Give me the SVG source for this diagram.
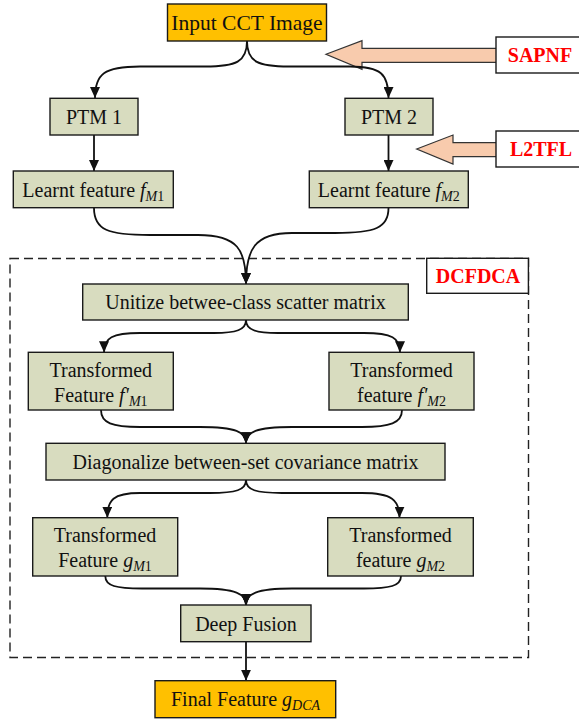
<svg xmlns="http://www.w3.org/2000/svg" width="579" height="723" viewBox="0 0 579 723">
<style>
.box{fill:#D8DCBF;stroke:#1a1a1a;stroke-width:1.4}
.org{fill:#FFC000;stroke:#1a1a1a;stroke-width:1.4}
.lbl{fill:#fff;stroke:#1a1a1a;stroke-width:1.4}
.t{font-family:"Liberation Serif","Times New Roman",serif;font-size:20px;fill:#111;text-anchor:middle}
.r{font-family:"Liberation Serif","Times New Roman",serif;font-size:20px;font-weight:bold;fill:#FF0000;text-anchor:middle}
.i{font-style:italic}
.s{font-size:14px}
.c{fill:none;stroke:#111;stroke-width:1.8}
.blk{fill:#F8CBAD;stroke:#333;stroke-width:1.2}
.dash{fill:none;stroke:#222;stroke-width:1.4;stroke-dasharray:9 5}
</style>
<defs>
<marker id="ah" markerUnits="userSpaceOnUse" markerWidth="11" markerHeight="10" refX="11" refY="5" orient="auto">
<path d="M0,0 L11,5 L0,10 z" fill="#111"/>
</marker>
</defs>

<rect class="dash" x="10" y="258.5" width="518.5" height="399"/>

<g id="sapnf-arrow"><polygon class="blk" points="326,54.3 362,40.7 362,48.3 497,48.3 497,62.3 362,62.3 362,69.3"/></g>
<g id="l2tfl-arrow"><polygon class="blk" points="416.7,149 453,135 453,142.7 497,142.7 497,156.7 453,156.7 453,164"/></g>

<g id="connectors">
<path class="c" marker-end="url(#ah)" d="M247,41 C247,62 236,66.5 205,66.5 L140,66.5 C104,66.5 95,74 95,98"/>
<path class="c" marker-end="url(#ah)" d="M247,41 C247,62 258,66.5 289,66.5 L350,66.5 C381,66.5 388.5,74 388.5,98"/>
<path class="c" marker-end="url(#ah)" d="M94,135 L94,171"/>
<path class="c" marker-end="url(#ah)" d="M388.5,135 L388.5,171"/>
<path class="c" marker-end="url(#ah)" d="M94,208 C94,230 108,235 150,235 L198,235 C238,235 246,250 246,284"/>
<path class="c" marker-end="url(#ah)" d="M388.5,208 C388.5,228 375,233 335,233 L292,233 C254,233 246,250 246,284"/>
<path class="c" marker-end="url(#ah)" d="M246,320 C246,330 236,333 214,333 L140,333 C112,333 104,338 104,352.3"/>
<path class="c" marker-end="url(#ah)" d="M246,320 C246,330 256,333 278,333 L364,333 C392,333 400,338 400,352.3"/>
<path class="c" marker-end="url(#ah)" d="M101,410 C101,423 112,427 140,427 L200,427 C236,427 246,432 246,443.3"/>
<path class="c" marker-end="url(#ah)" d="M402,410 C402,423 390,427 362,427 L292,427 C256,427 246,432 246,443.3"/>
<path class="c" marker-end="url(#ah)" d="M246,480 C246,490 236,493 210,493 L140,493 C113,493 107.3,500 107.3,517.7"/>
<path class="c" marker-end="url(#ah)" d="M246,480 C246,490 256,493 282,493 L362,493 C392,493 399.5,500 399.5,517.7"/>
<path class="c" marker-end="url(#ah)" d="M105.3,576 C105.3,586 116,588.5 142,588.5 L200,588.5 C236,588.5 246,594 246,605"/>
<path class="c" marker-end="url(#ah)" d="M401,576 C401,586 390,588.5 364,588.5 L292,588.5 C256,588.5 246,594 246,605"/>
<path class="c" marker-end="url(#ah)" d="M246,642 L246,680.7"/>
</g>

<g id="input"><rect class="org" x="167.5" y="4" width="159" height="37"/><text class="t" x="247" y="29.5" style="font-size:21.5px">Input CCT Image</text></g>
<g id="sapnf"><rect class="lbl" x="496" y="37" width="90" height="36"/><text class="r" x="540" y="62">SAPNF</text></g>
<g id="l2tfl"><rect class="lbl" x="496" y="131" width="90" height="36"/><text class="r" x="541" y="156">L2TFL</text></g>
<g id="ptm1"><rect class="box" x="50" y="98.3" width="88" height="36.7"/><text class="t" x="94" y="123.5">PTM 1</text></g>
<g id="ptm2"><rect class="box" x="345" y="98.3" width="88" height="36.7"/><text class="t" x="389" y="123.5">PTM 2</text></g>
<g id="fm1"><rect class="box" x="13.3" y="171" width="160" height="36.7"/><text class="t" x="93.3" y="196.5">Learnt feature <tspan class="i">f</tspan><tspan class="s" dy="4"><tspan class="i">M</tspan>1</tspan></text></g>
<g id="fm2"><rect class="box" x="309.3" y="171" width="159" height="36.7"/><text class="t" x="388.8" y="196.5">Learnt feature <tspan class="i">f</tspan><tspan class="s" dy="4"><tspan class="i">M</tspan>2</tspan></text></g>
<g id="dcfdca"><rect class="lbl" x="426.7" y="258.3" width="101.7" height="35"/><text class="r" x="478" y="283">DCFDCA</text></g>
<g id="unitize"><rect class="box" x="82.7" y="284" width="325.6" height="36"/><text class="t" x="245.5" y="309">Unitize betwee-class scatter matrix</text></g>
<g id="tf1"><rect class="box" x="28.3" y="352.3" width="145" height="57.7"/><text class="t" x="100.8" y="376.5">Transformed</text><text class="t" x="100.8" y="401.5">Feature <tspan class="i">f'</tspan><tspan class="s" dy="4"><tspan class="i">M</tspan>1</tspan></text></g>
<g id="tf2"><rect class="box" x="329" y="352.3" width="145" height="57.7"/><text class="t" x="401.5" y="376.5">Transformed</text><text class="t" x="401.5" y="401.5">feature <tspan class="i">f'</tspan><tspan class="s" dy="4"><tspan class="i">M</tspan>2</tspan></text></g>
<g id="diag"><rect class="box" x="46" y="443.3" width="399" height="36.7"/><text class="t" x="245.5" y="468.5">Diagonalize between-set covariance matrix</text></g>
<g id="tg1"><rect class="box" x="32.7" y="517.7" width="145" height="58.3"/><text class="t" x="105" y="541.7">Transformed</text><text class="t" x="105" y="566.7">Feature <tspan class="i">g</tspan><tspan class="s" dy="4"><tspan class="i">M</tspan>1</tspan></text></g>
<g id="tg2"><rect class="box" x="327.7" y="517.7" width="145.6" height="58.3"/><text class="t" x="400.5" y="541.7">Transformed</text><text class="t" x="400.5" y="566.7">feature <tspan class="i">g</tspan><tspan class="s" dy="4"><tspan class="i">M</tspan>2</tspan></text></g>
<g id="fusion"><rect class="box" x="180.7" y="605" width="130.3" height="36.7"/><text class="t" x="246" y="630.5">Deep Fusion</text></g>
<g id="final"><rect class="org" x="155" y="680.7" width="180.7" height="37"/><text class="t" x="245.5" y="706">Final Feature <tspan class="i">g</tspan><tspan class="s i" dy="4">DCA</tspan></text></g>
</svg>
